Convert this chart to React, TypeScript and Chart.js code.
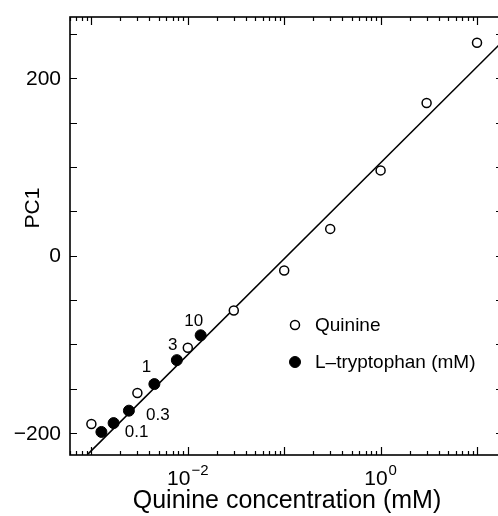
import React, { useEffect, useRef } from "react";
import { Chart, registerables } from "chart.js";

Chart.register(...registerables);

// ---- data ----
const quinineConc = [0.001, 0.003, 0.01, 0.03, 0.1, 0.3, 1, 3, 10];
const quininePC1 = [-190, -155, -104, -62, -17, 30, 96, 172, 240];
const trpEquivConc = [0.00127, 0.0017, 0.00245, 0.0045, 0.0077, 0.0136];
const trpPC1 = [-199, -189, -175, -145, -118, -90];
const trpLabels = ["", "0.1", "0.3", "1", "3", "10"];
const fitConc = [0.00092, 18.6];
const fitPC1 = [-224, 242];
const yTickValues = [-200, 0, 200];
const yTickLabels = ["\u2212200", "0", "200"];
const xTickValues = [0.01, 1];
const xTickBase = ["10", "10"];
const xTickExp = ["\u22122", "0"];
const seriesNames = ["Quinine", "L\u2013tryptophan (mM)"];
const xTitle = "Quinine concentration (mM)";
const yTitle = "PC1";

const FONT = "'Liberation Sans', Arial, Helvetica, sans-serif";
const trpLabelOffsets = [
  [0, 0],
  [23, 9],
  [29, 5],
  [-8, -17],
  [-4, -15],
  [-7, -14],
];

const axesPlugin = {
  id: "axesPlugin",
  afterDraw(chart: any) {
    const ctx = chart.ctx as CanvasRenderingContext2D;
    const { left, right, top, bottom } = chart.chartArea;
    const xs = chart.scales.x;
    const ys = chart.scales.y;
    ctx.save();
    ctx.strokeStyle = "#000";
    ctx.fillStyle = "#000";
    ctx.lineWidth = 1.6;
    ctx.strokeRect(left, top, right - left, bottom - top);

    // y ticks (inward)
    ctx.lineWidth = 1.2;
    for (let v = -200; v <= 250; v += 50) {
      const y = Math.round(ys.getPixelForValue(v)) + 0.5;
      ctx.beginPath();
      ctx.moveTo(left, y);
      ctx.lineTo(left + 7, y);
      ctx.moveTo(right, y);
      ctx.lineTo(right - 7, y);
      ctx.stroke();
    }
    // x ticks (inward, log)
    for (let d = -4; d <= 1; d++) {
      for (let k = 1; k <= 9; k++) {
        const v = k * Math.pow(10, d);
        if (v < xs.min || v > xs.max) continue;
        const x = Math.round(xs.getPixelForValue(v)) + 0.5;
        const len = k === 1 ? 8 : 4;
        ctx.beginPath();
        ctx.moveTo(x, bottom);
        ctx.lineTo(x, bottom - len);
        ctx.moveTo(x, top);
        ctx.lineTo(x, top + len);
        ctx.stroke();
      }
    }

    // y tick labels
    ctx.font = `21px ${FONT}`;
    ctx.textAlign = "right";
    ctx.textBaseline = "middle";
    yTickValues.forEach((v, i) => {
      ctx.fillText(yTickLabels[i], left - 9, ys.getPixelForValue(v) + 1);
    });

    // x tick labels with superscripts
    ctx.textBaseline = "alphabetic";
    ctx.textAlign = "left";
    xTickValues.forEach((v, i) => {
      ctx.font = `21px ${FONT}`;
      const wb = ctx.measureText(xTickBase[i]).width;
      ctx.font = `15px ${FONT}`;
      const we = ctx.measureText(xTickExp[i]).width;
      const x0 = xs.getPixelForValue(v) - (wb + we + 1) / 2;
      ctx.font = `21px ${FONT}`;
      ctx.fillText(xTickBase[i], x0, bottom + 30);
      ctx.font = `15px ${FONT}`;
      ctx.fillText(xTickExp[i], x0 + wb + 1, bottom + 20);
    });

    // axis titles
    ctx.font = `25px ${FONT}`;
    ctx.textAlign = "center";
    ctx.textBaseline = "middle";
    ctx.fillText(xTitle, 287, bottom + 46);
    ctx.save();
    ctx.translate(33, 208);
    ctx.rotate(-Math.PI / 2);
    ctx.font = `21px ${FONT}`;
    ctx.fillText(yTitle, 0, 0);
    ctx.restore();

    // point labels for tryptophan
    ctx.font = `17px ${FONT}`;
    ctx.textAlign = "center";
    ctx.textBaseline = "middle";
    trpEquivConc.forEach((c, i) => {
      if (!trpLabels[i]) return;
      const px = xs.getPixelForValue(c) + trpLabelOffsets[i][0];
      const py = ys.getPixelForValue(trpPC1[i]) + trpLabelOffsets[i][1];
      ctx.fillText(trpLabels[i], px, py);
    });

    // legend
    const legendX = 295;
    const legendY = [325, 362];
    ctx.font = `19px ${FONT}`;
    ctx.textAlign = "left";
    [0, 1].forEach((di) => {
      const ds = chart.data.datasets[di];
      ctx.beginPath();
      ctx.arc(legendX, legendY[di], ds.pointRadius, 0, Math.PI * 2);
      ctx.fillStyle = ds.pointBackgroundColor;
      ctx.fill();
      ctx.lineWidth = ds.pointBorderWidth;
      ctx.strokeStyle = "#000";
      ctx.stroke();
      ctx.fillStyle = "#000";
      ctx.fillText(ds.label, legendX + 20, legendY[di] + 1);
    });
    ctx.restore();
  },
};

export default function App() {
  const ref = useRef<HTMLCanvasElement>(null);
  useEffect(() => {
    const chart = new Chart(ref.current as HTMLCanvasElement, {
      type: "scatter",
      data: {
        datasets: [
          {
            label: seriesNames[0],
            data: quinineConc.map((x, i) => ({ x, y: quininePC1[i] })),
            pointRadius: 4.5,
            pointBackgroundColor: "#fff",
            pointBorderColor: "#000",
            pointBorderWidth: 1.5,
            showLine: false,
          },
          {
            label: seriesNames[1],
            data: trpEquivConc.map((x, i) => ({ x, y: trpPC1[i] })),
            pointRadius: 5.5,
            pointBackgroundColor: "#000",
            pointBorderColor: "#000",
            pointBorderWidth: 1,
            showLine: false,
          },
          {
            label: "",
            data: fitConc.map((x, i) => ({ x, y: fitPC1[i] })),
            pointRadius: 0,
            showLine: true,
            borderColor: "#000",
            borderWidth: 1.5,
          },
        ] as any,
      },
      options: {
        responsive: false,
        animation: false,
        devicePixelRatio: 1,
        layout: { padding: { left: 70, top: 17, right: 9, bottom: 61 } },
        plugins: { legend: { display: false }, tooltip: { enabled: false } },
        scales: {
          x: { type: "logarithmic", min: 0.000607, max: 18.6, display: false },
          y: { type: "linear", min: -225, max: 269, display: false },
        },
      },
      plugins: [axesPlugin],
    });
    return () => chart.destroy();
  }, []);
  return (
    <div
      style={{
        position: "fixed",
        left: 0,
        top: 0,
        width: 498,
        height: 516,
        overflow: "hidden",
        background: "#fff",
      }}
    >
      <canvas
        ref={ref}
        width={512}
        height={516}
        style={{ display: "block", width: 512, height: 516 }}
      />
    </div>
  );
}
